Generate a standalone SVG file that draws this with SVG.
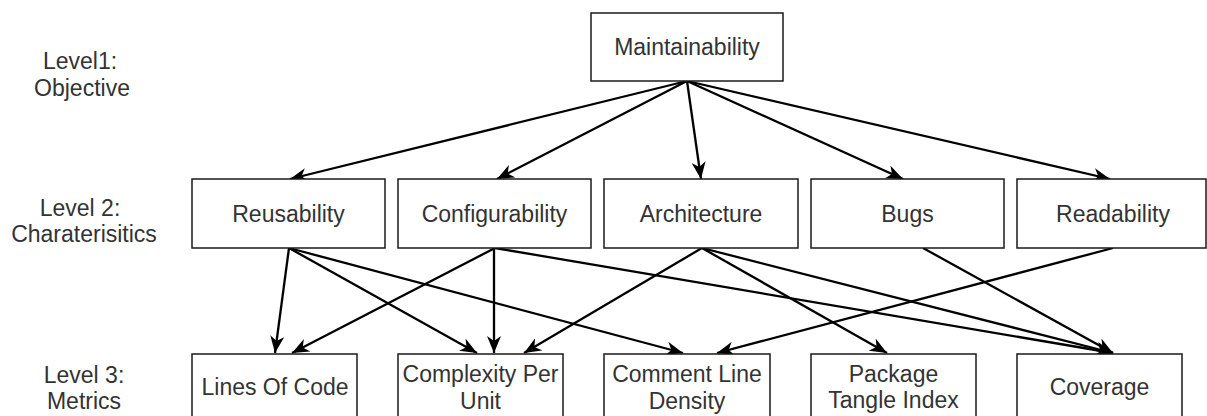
<svg xmlns="http://www.w3.org/2000/svg" width="1207" height="416" viewBox="0 0 1207 416">
  <style>
    .box { fill: #ffffff; stroke: #1a1a1a; stroke-width: 1.5; }
    .lbl { font-family: "Liberation Sans", Arial, sans-serif; font-size: 23px; fill: #333333; text-anchor: middle; }
    .edge { fill: none; stroke: #000000; stroke-width: 2.3; marker-end: url(#arrow); }
  </style>
  <defs>
    <marker id="arrow" viewBox="0 0 17 14" refX="17" refY="7" markerWidth="17" markerHeight="14" markerUnits="userSpaceOnUse" orient="auto">
      <path d="M0,0 L17,7 L0,14 L5,7 Z" fill="#000000"/>
    </marker>
  </defs>
  <rect width="1207" height="416" fill="#ffffff"/>

  <!-- level captions -->
  <g id="level-captions">
    <text class="lbl" x="80" y="69">Level1:</text>
    <text class="lbl" x="82" y="96">Objective</text>
    <text class="lbl" x="80" y="216">Level 2:</text>
    <text class="lbl" x="84" y="242">Charaterisitics</text>
    <text class="lbl" x="84" y="383">Level 3:</text>
    <text class="lbl" x="84" y="409">Metrics</text>
  </g>

  <!-- connectors -->
  <g id="connectors">
    <line class="edge" x1="687" y1="81" x2="290" y2="179"/>
    <line class="edge" x1="687" y1="81" x2="497" y2="179"/>
    <line class="edge" x1="687" y1="81" x2="701" y2="179"/>
    <line class="edge" x1="687" y1="81" x2="903" y2="179"/>
    <line class="edge" x1="687" y1="81" x2="1110" y2="179"/>

    <line class="edge" x1="289" y1="248" x2="275" y2="353"/>
    <line class="edge" x1="289" y1="248" x2="477" y2="353"/>
    <line class="edge" x1="289" y1="248" x2="683" y2="353"/>

    <line class="edge" x1="495" y1="248" x2="292" y2="353"/>
    <line class="edge" x1="494" y1="248" x2="494" y2="353"/>
    <line class="edge" x1="495" y1="248" x2="1113" y2="353"/>

    <line class="edge" x1="702" y1="248" x2="524" y2="353"/>
    <line class="edge" x1="702" y1="248" x2="887" y2="353"/>
    <line class="edge" x1="702" y1="248" x2="1113" y2="353"/>

    <line class="edge" x1="923" y1="248" x2="1113" y2="353"/>
    <line class="edge" x1="1113" y1="248" x2="717" y2="353"/>
  </g>

  <!-- level 1 -->
  <g id="maintainability">
    <rect class="box" x="591" y="13" width="192" height="68"/>
    <text class="lbl" x="687" y="55">Maintainability</text>
  </g>

  <!-- level 2 -->
  <g id="reusability">
    <rect class="box" x="192" y="179" width="193" height="69"/>
    <text class="lbl" x="288.5" y="222">Reusability</text>
  </g>
  <g id="configurability">
    <rect class="box" x="398" y="179" width="193" height="69"/>
    <text class="lbl" x="494.5" y="222">Configurability</text>
  </g>
  <g id="architecture">
    <rect class="box" x="604" y="179" width="194" height="69"/>
    <text class="lbl" x="701" y="222">Architecture</text>
  </g>
  <g id="bugs">
    <rect class="box" x="811" y="179" width="193" height="69"/>
    <text class="lbl" x="907.5" y="222">Bugs</text>
  </g>
  <g id="readability">
    <rect class="box" x="1017" y="179" width="189" height="69"/>
    <text class="lbl" x="1113" y="222">Readability</text>
  </g>

  <!-- level 3 -->
  <g id="lines-of-code">
    <rect class="box" x="192" y="354" width="165" height="69"/>
    <text class="lbl" x="275" y="395">Lines Of Code</text>
  </g>
  <g id="complexity-per-unit">
    <rect class="box" x="398" y="354" width="165" height="69"/>
    <text class="lbl" x="480.5" y="382">Complexity Per</text>
    <text class="lbl" x="480.5" y="409">Unit</text>
  </g>
  <g id="comment-line-density">
    <rect class="box" x="604" y="354" width="166" height="69"/>
    <text class="lbl" x="687" y="382">Comment Line</text>
    <text class="lbl" x="687" y="409">Density</text>
  </g>
  <g id="package-tangle-index">
    <rect class="box" x="811" y="354" width="165" height="69"/>
    <text class="lbl" x="893.5" y="382">Package</text>
    <text class="lbl" x="893.5" y="408">Tangle Index</text>
  </g>
  <g id="coverage">
    <rect class="box" x="1017" y="354" width="165" height="69"/>
    <text class="lbl" x="1099.5" y="395">Coverage</text>
  </g>
</svg>
